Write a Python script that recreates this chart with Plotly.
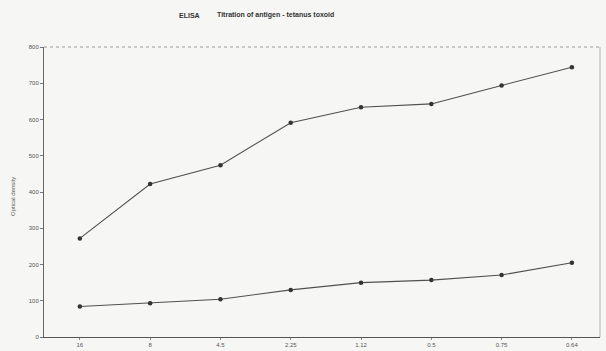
import plotly.graph_objects as go

# Antigen dilutions (tick labels) and optical density readings
dilutions = ["16", "8", "4.5", "2.25", "1.12", "0.5", "0.75", "0.64"]
od_high = [272, 422, 474, 591, 634, 643, 694, 744]
od_low = [84, 93, 104, 130, 150, 157, 171, 205]
y_ticks = [0, 100, 200, 300, 400, 500, 600, 700, 800]

x_pos = list(range(len(dilutions)))
ink = "#333333"
paper = "#f6f6f4"
PLOT_L, PLOT_W, PLOT_T, PLOT_H = 44, 556, 47, 290


def px_x(px):
    return (px - PLOT_L) / PLOT_W


def px_y(py):
    return 1 - (py - PLOT_T) / PLOT_H


fig = go.Figure()
for series in (od_high, od_low):
    fig.add_trace(go.Scatter(
        x=x_pos, y=series, mode="lines+markers",
        line=dict(color="#505050", width=1.1),
        marker=dict(color="#333333", size=4.5, symbol="circle"),
        showlegend=False, hoverinfo="skip",
    ))

fig.update_layout(
    width=606, height=351,
    margin=dict(l=44, r=6, t=47, b=14),
    paper_bgcolor=paper, plot_bgcolor=paper,
    font=dict(family="Liberation Sans, Arial, sans-serif", size=6, color="#555555"),
    xaxis=dict(
        range=[-0.51, 7.4], tickmode="array", tickvals=x_pos, ticktext=dilutions,
        showgrid=False, zeroline=False, showline=True, linecolor="#555555",
        linewidth=1.2, ticks="outside", ticklen=2, tickcolor="#888888",
        tickfont=dict(size=6, color="#555555"), automargin=False,
    ),
    yaxis=dict(
        range=[0, 800], tickmode="array", tickvals=y_ticks,
        showgrid=False, zeroline=False, showline=True, linecolor="#666666",
        linewidth=1, ticks="outside", ticklen=3, tickcolor="#777777",
        tickfont=dict(size=6, color="#555555"), automargin=False,
    ),
    shapes=[
        dict(type="line", xref="paper", yref="paper", x0=0, x1=1, y0=1, y1=1,
             line=dict(color="#9a9a9a", width=1, dash="dot")),
        dict(type="line", xref="paper", yref="paper", x0=1, x1=1, y0=0, y1=1,
             line=dict(color="#b0b0b0", width=1)),
    ],
    annotations=[
        dict(text="<b>ELISA</b>", xref="paper", yref="paper",
             x=px_x(177), y=px_y(15), yanchor="middle", showarrow=False,
             font=dict(size=7, color=ink)),
        dict(text="<b>Titration of antigen - tetanus toxoid</b>", xref="paper", yref="paper",
             x=px_x(275), y=px_y(15), yanchor="middle", showarrow=False,
             font=dict(size=7, color=ink)),
        dict(text="Optical density", xref="paper", yref="paper",
             x=px_x(13), y=px_y(197), xanchor="center", yanchor="middle",
             textangle=-90, showarrow=False, font=dict(size=6, color="#555555")),
    ],
)

fig.write_html("out.html")
